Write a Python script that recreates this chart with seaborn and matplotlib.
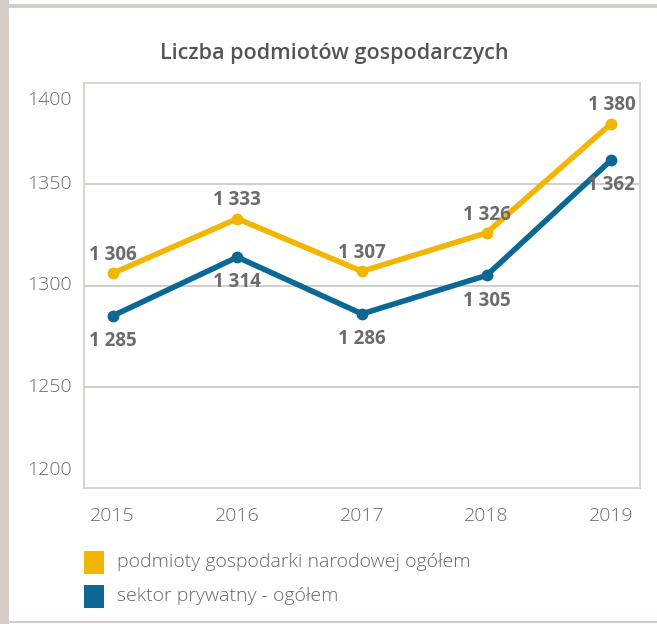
import matplotlib
matplotlib.use("Agg")
import matplotlib.pyplot as plt
import matplotlib.patches as mpatches
import matplotlib.transforms as mtransforms
import seaborn as sns
import pandas as pd

years = ["2015", "2016", "2017", "2018", "2019"]
total = [1306, 1333, 1307, 1326, 1380]
private = [1285, 1314, 1286, 1305, 1362]
series_names = ["podmioty gospodarki narodowej ogółem", "sektor prywatny - ogółem"]
yticks = [1200, 1250, 1300, 1350, 1400]
title = "Liczba podmiotów gospodarczych"

colors = ["#F2B600", "#0B6894"]
txt = "#555555"

sns.set_theme(style="white")
plt.rcParams['font.family'] = ['Open Sans', 'DejaVu Sans']

df = pd.DataFrame({
    "x": list(range(len(years))) * 2,
    "value": total + private,
    "series": [series_names[0]] * len(years) + [series_names[1]] * len(years),
})

W, H = 657, 624
fig = plt.figure(figsize=(W / 100, H / 100), dpi=100)
fig.patch.set_facecolor("white")
frame_c = "#d6cec6"
# outer frame pieces
fig.add_artist(mpatches.Rectangle((0, 0), 9 / W, 1, transform=fig.transFigure,
                                  facecolor=frame_c, edgecolor="none"))
fig.add_artist(mpatches.Rectangle((0, 1 - 8 / H), 1, 4 / H, transform=fig.transFigure,
                                  facecolor=frame_c, edgecolor="none"))
fig.add_artist(mpatches.Rectangle((0, 1 - 623 / H), 1, 2 / H, transform=fig.transFigure,
                                  facecolor=frame_c, edgecolor="none"))

ax = fig.add_axes([84 / W, 1 - 488 / H, (640 - 84) / W, (488 - 83) / H])

sns.lineplot(data=df, x="x", y="value", hue="series", palette=colors,
             marker="o", markersize=8.5, markeredgewidth=0, linewidth=4,
             ax=ax, legend=False)

ax.set_xlim(-0.23, 4.23)
ax.set_ylim(1200, 1400)
ax.set_xticks(range(len(years)))
ax.set_xticklabels(years)
ax.set_yticks(yticks)
ax.set_yticklabels([])
ax.tick_params(axis="both", length=0, labelsize=14, labelcolor="#6a6a6a")
ax.tick_params(axis="x", pad=14)
for lab in ax.get_xticklabels():
    lab.set_fontweight("light")
ax.set_xlabel("")
ax.set_ylabel("")

# y tick labels (end labels nudged inward as in the reference)
ylab_tr = mtransforms.blended_transform_factory(ax.transAxes, ax.transData)
for v in yticks:
    dy = 0
    if v == 1400:
        dy = -17
    elif v == 1200:
        dy = 18
    off = mtransforms.ScaledTranslation(0, dy / 100, fig.dpi_scale_trans)
    ax.text(-0.022, v, str(v), transform=ylab_tr + off, ha="right", va="center",
            fontsize=14, color="#6a6a6a", fontweight="light", clip_on=False)

for y in [1250, 1300, 1350]:
    ax.axhline(y, color="#c8c6c0", linewidth=1.2, zorder=0)
for s in ax.spines.values():
    s.set_color("#d0cec8")
    s.set_linewidth(1.2)

for i, v in enumerate(total):
    ax.annotate(f"{v // 1000} {v % 1000:03d}",
                (i, v), xytext=(0, 6), textcoords="offset points",
                ha="center", va="bottom", fontsize=13.5, fontweight="bold", color="#6b6b6b")
for i, v in enumerate(private):
    ax.annotate(f"{v // 1000} {v % 1000:03d}",
                (i, v), xytext=(0, -11), textcoords="offset points",
                ha="center", va="top", fontsize=13.5, fontweight="bold", color="#6b6b6b")

fig.text(334 / W, 1 - 53 / H, title, ha="center", va="center", fontsize=15.5,
         color=txt, fontweight="semibold")

# legend
for k, (name, c) in enumerate(zip(series_names, colors)):
    yc = 1 - (562 + 34 * k) / H
    fig.add_artist(mpatches.Rectangle((84 / W, yc - 11.5 / H), 20 / W, 23 / H,
                                      transform=fig.transFigure, facecolor=c, edgecolor="none"))
    fig.text(117 / W, yc, name, ha="left", va="center", fontsize=14, color="#666666",
             fontweight="light")

fig.savefig("out.png", dpi=100)
